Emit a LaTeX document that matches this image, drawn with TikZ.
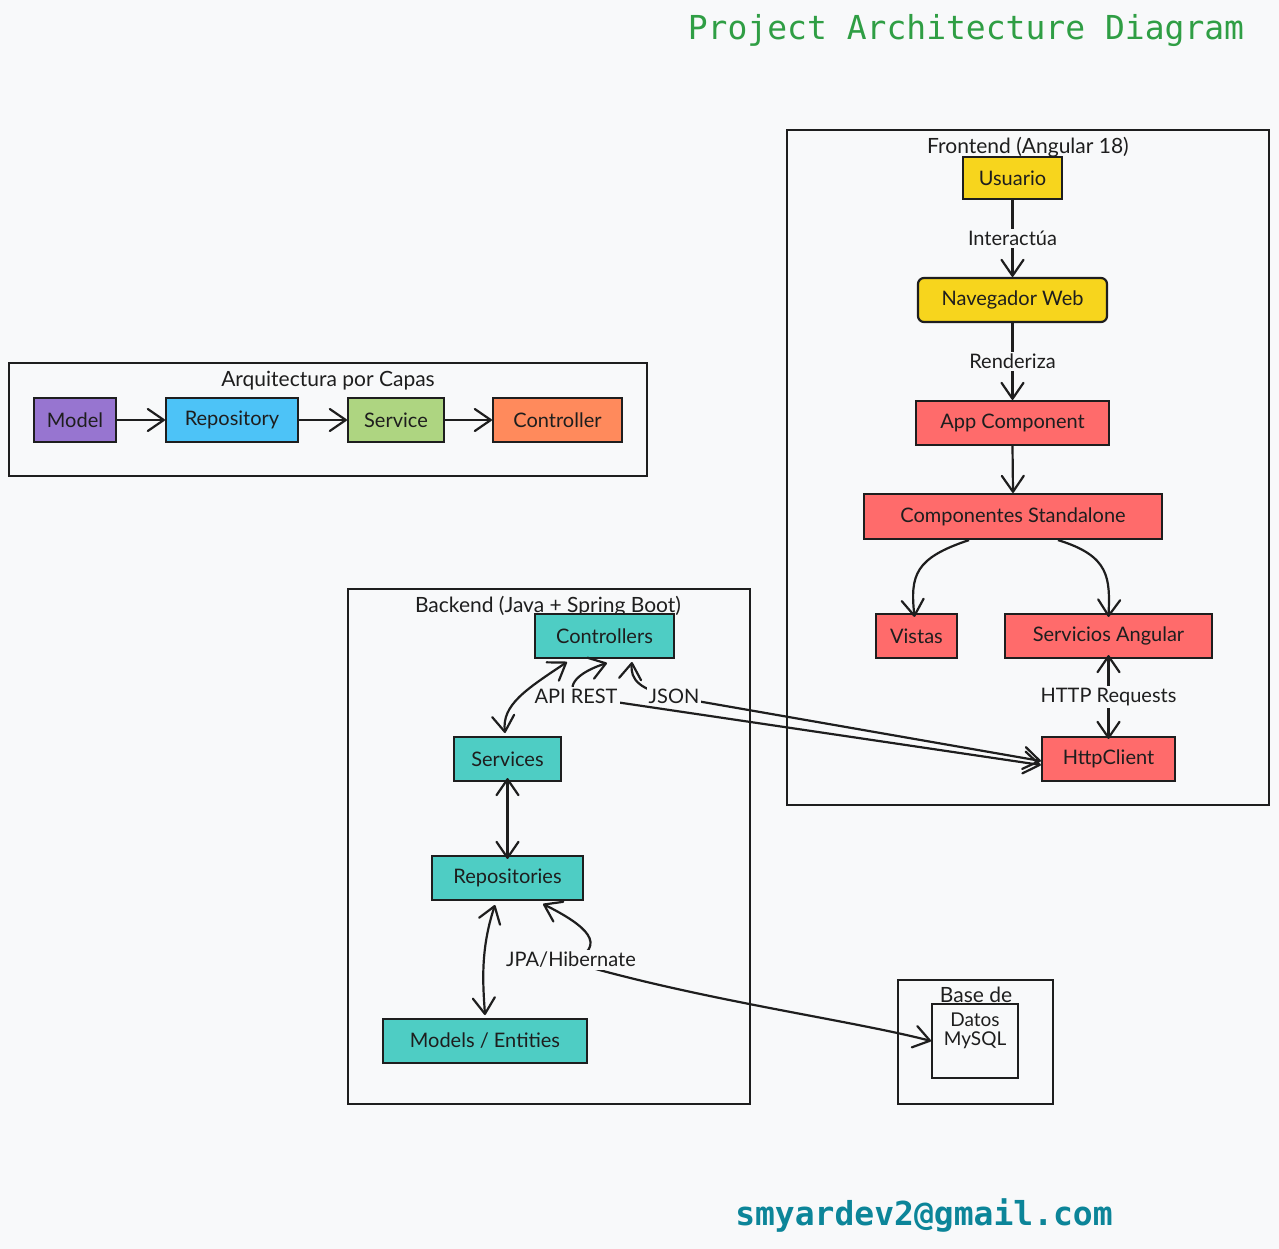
\documentclass[tikz,border=0pt]{standalone}
\usepackage{fontspec}
\setmainfont{Lato}
\newfontfamily\monofam{DejaVu Sans Mono}
\usetikzlibrary{arrows.meta}
\definecolor{bg}{HTML}{F8F9FA}
\definecolor{ink}{HTML}{1E1E1E}
\definecolor{cyel}{HTML}{F7D51D}
\definecolor{cred}{HTML}{FF6B6B}
\definecolor{cteal}{HTML}{4ECDC4}
\definecolor{cpurp}{HTML}{9775D0}
\definecolor{cblue}{HTML}{4DC3F7}
\definecolor{cgreen}{HTML}{AED581}
\definecolor{corange}{HTML}{FF8A5C}
\definecolor{ctitle}{HTML}{2F9E44}
\definecolor{cmail}{HTML}{0C8599}
\tikzset{
  every node/.style={font=\fontsize{20}{23}\selectfont, text=ink},
  box/.style={draw=ink, line width=2.2pt, rectangle, inner sep=0pt},
  frame/.style={draw=ink, line width=1.8pt},
  ftitle/.style={font=\fontsize{21}{24}\selectfont, inner sep=1pt},
  barb/.tip={Straight Barb[length=16pt,width=22pt,line width=2.2pt,round]},
  conn/.style={draw=ink, line width=2.2pt, -barb},
  dconn/.style={draw=ink, line width=2.2pt, barb-barb},
  elabel/.style={fill=bg, inner sep=2pt, font=\fontsize{20}{23}\selectfont},
}
\begin{document}
\begin{tikzpicture}[x=1pt,y=-1pt]
\useasboundingbox[fill=bg] (0,0) rectangle (1279,1249);
% title
\node[font=\monofam\fontsize{33}{37}\selectfont, text=ctitle] (title) at (966,31) {Project Architecture Diagram};
\node[font=\monofam\bfseries\fontsize{33}{37}\selectfont, text=cmail] (mail) at (924,1215) {smyardev2@gmail.com};

% ===== Frontend frame
\draw[frame] (787,130) rectangle (1269,805);
\node[ftitle] (ftit) at (1028,147) {Frontend (Angular 18)};
\node[box, fill=cyel, minimum width=99pt, minimum height=42pt] (usu) at (1012.5,178) {Usuario};
\node[box, fill=cyel, rounded corners=6pt, minimum width=189pt, minimum height=44pt] (nav) at (1012.5,300) {Navegador Web};
\node[box, fill=cred, minimum width=193pt, minimum height=44pt] (app) at (1012.5,423) {App Component};
\node[box, fill=cred, minimum width=298pt, minimum height=45pt] (comp) at (1013,516.5) {Componentes Standalone};
\node[box, fill=cred, minimum width=81pt, minimum height=44pt] (vis) at (916.5,636) {Vistas};
\node[box, fill=cred, minimum width=207pt, minimum height=44pt] (serv) at (1108.5,636) {Servicios Angular};
\node[box, fill=cred, minimum width=133pt, minimum height=44pt] (http) at (1108.5,759) {HttpClient};

\draw[conn] (usu.south) -- node[elabel] (lint) {Interactúa} (nav.north);
\draw[conn] (nav.south) -- node[elabel] (lren) {Renderiza} (app.north);
\draw[conn] (app.south) -- (comp.north);
\draw[conn] ([xshift=-44pt]comp.south) .. controls (915,558) and (910,575) .. ([xshift=-2pt,yshift=-4pt]vis.north);
\draw[conn] ([xshift=45pt]comp.south) .. controls (1110,556) and (1110,578) .. ([yshift=-4pt]serv.north);
\draw[dconn] ([yshift=4pt]serv.south) -- node[elabel] (lhttp) {HTTP Requests} ([yshift=-3pt]http.north);

% ===== Arquitectura por capas
\draw[frame] (9,363) rectangle (647,476);
\node[ftitle] (atit) at (328,381) {Arquitectura por Capas};
\node[box, fill=cpurp, minimum width=82pt, minimum height=44pt] (model) at (75,420) {Model};
\node[box, fill=cblue, minimum width=132pt, minimum height=44pt] (repo1) at (232,420) {Repository};
\node[box, fill=cgreen, minimum width=96pt, minimum height=44pt] (svc1) at (396,420) {Service};
\node[box, fill=corange, minimum width=129pt, minimum height=44pt] (ctl1) at (557.5,420) {Controller};
\draw[conn] (model) -- (repo1);
\draw[conn] (repo1) -- (svc1);
\draw[conn] (svc1) -- (ctl1);

% ===== Backend
\draw[frame] (348,589) rectangle (750,1104);
\node[ftitle] (btit) at (548,606) {Backend (Java + Spring Boot)};
\node[box, fill=cteal, minimum width=139pt, minimum height=44pt] (ctrl) at (604.5,636) {Controllers};
\node[box, fill=cteal, minimum width=107pt, minimum height=44pt] (svcs) at (507.5,759) {Services};
\node[box, fill=cteal, minimum width=151pt, minimum height=44pt] (repos) at (507.5,878) {Repositories};
\node[box, fill=cteal, minimum width=204pt, minimum height=44pt] (models) at (485,1041) {Models / Entities};

\coordinate (c1) at (567,662);
\coordinate (s1) at (505,733);
\draw[dconn] (c1) .. controls (525,690) and (502,705) .. (s1);
\draw[dconn] ([yshift=4pt]svcs.south) -- ([yshift=-4pt]repos.north);
\coordinate (r1) at (495,905);
\coordinate (m1) at (485,1015);
\draw[dconn] (r1) .. controls (480,950) and (483,985) .. (m1);

% ===== Database
\draw[frame] (898,980) rectangle (1053,1104);
\node[ftitle] (dbtit) at (976,995) {Base de};
\node[box, fill=bg, minimum width=86pt, minimum height=74pt, line width=1.8pt] (db) at (975,1041) {};
\node[font=\fontsize{19}{19}\selectfont, align=center] (dbtxt) at (975,1031) {Datos\\MySQL};

% ===== cross connectors
\coordinate (capi) at (607,663);
\coordinate (cjson) at (632,662);
\draw[dconn] (capi) .. controls (585,670) and (565,682) .. (575,696) -- ([yshift=-6pt]http.west);
\draw[dconn] (cjson) .. controls (630,680) and (640,690) .. (674,697) -- ([yshift=-2pt]http.west);
\node[elabel] (lapi) at (576,696) {API REST};
\node[elabel] (ljson) at (674,696) {JSON};

\coordinate (rj) at (543,904);
\draw[dconn] (rj) .. controls (585,925) and (610,945) .. (571,962) .. controls (700,1000) and (850,1020) .. (db.west);
\node[elabel] (ljpa) at (571,960) {JPA/Hibernate};
\end{tikzpicture}
\end{document}
